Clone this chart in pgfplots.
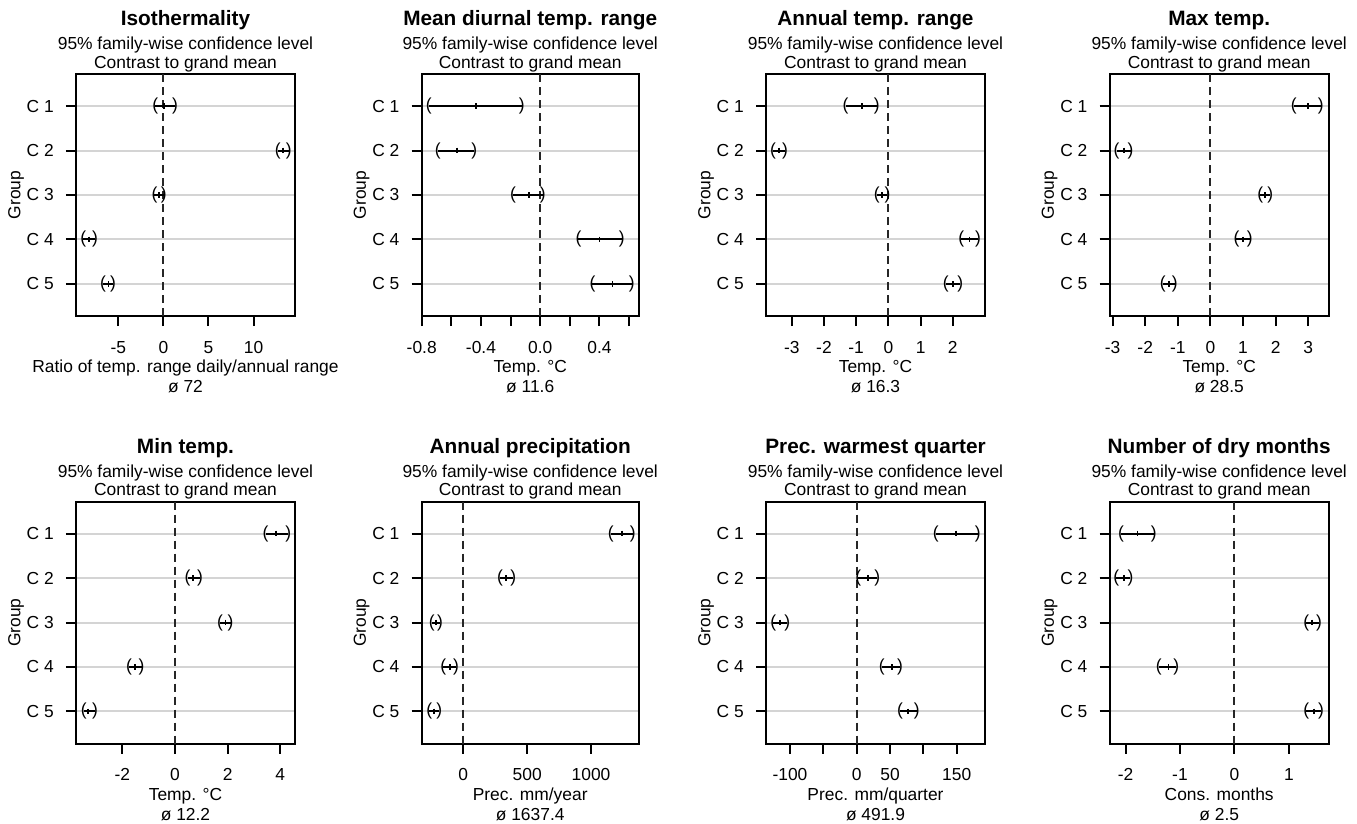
\documentclass[border=0pt]{standalone}
\usepackage{pgfplots}
\pgfplotsset{compat=1.18}
\usepackage{pgfplotstable}
\usepackage{fontspec}
\setmainfont{Liberation Sans}

\newcommand{\txtfont}{\fontsize{8.7}{10}\selectfont}
\newcommand{\ttlfont}{\fontsize{10.4}{12}\selectfont\bfseries}

% g = group, lwr/est/upr = simultaneous 95% interval (contrast to grand mean)
\pgfplotstableread{
g lwr est upr
1 -0.9 0.1 1.3
2 12.7 13.3 13.9
3 -1.0 -0.45 0.05
4 -8.9 -8.3 -7.6
5 -6.7 -6.1 -5.6
}\tIso
\pgfplotstableread{
g lwr est upr
1 -0.753 -0.431 -0.124
2 -0.692 -0.562 -0.445
3 -0.184 -0.074 0.018
4 0.258 0.400 0.551
5 0.353 0.488 0.618
}\tDiu
\pgfplotstableread{
g lwr est upr
1 -1.33 -0.83 -0.36
2 -3.58 -3.40 -3.21
3 -0.36 -0.21 -0.03
4 2.26 2.52 2.78
5 1.78 2.00 2.23
}\tAnn
\pgfplotstableread{
g lwr est upr
1 2.56 2.99 3.39
2 -2.88 -2.66 -2.45
3 1.53 1.67 1.84
4 0.80 1.00 1.21
5 -1.46 -1.28 -1.09
}\tMax
\pgfplotstableread{
g lwr est upr
1 3.44 3.84 4.30
2 0.48 0.70 0.95
3 1.71 1.92 2.11
4 -1.75 -1.52 -1.27
5 -3.46 -3.29 -3.04
}\tMin
\pgfplotstableread{
g lwr est upr
1 1154 1240 1326
2 287 332 392
3 -248 -214 -183
4 -157 -104 -57
5 -266 -227 -188
}\tPrec
\pgfplotstableread{
g lwr est upr
1 118.5 149 181.5
2 2.5 17.5 31
3 -125 -115 -104
4 37.5 52.5 65
5 65 77.5 90
}\tWarm
\pgfplotstableread{
g lwr est upr
1 -2.08 -1.78 -1.48
2 -2.17 -2.03 -1.91
3 1.32 1.43 1.55
4 -1.39 -1.21 -1.07
5 1.32 1.46 1.59
}\tDry

\pgfplotsset{
  ci/.style={
    scale only axis, height=121pt, width=109.5pt, anchor=south west,
    y dir=reverse, ymin=0.28, ymax=5.72,
    ytick={1,2,3,4,5}, yticklabels={C 1,C 2,C 3,C 4,C 5},
    tick align=outside, xtick pos=bottom, ytick pos=left,
    major tick length=5pt, tick style={black, line width=1pt},
    axis line style={line width=1pt},
    ymajorgrids, major grid style={black!17, line width=1pt},
    tick label style={font=\txtfont},
    xticklabel style={anchor=base, yshift=-13.6pt},
    yticklabel style={xshift=-2.6pt},
  },
}

% zero line, intervals, estimates and brackets of one panel
\newcommand{\ciplot}[1]{%
  \addplot[black!85, line width=1pt, dash pattern=on 4pt off 2.5pt] coordinates {(0,0.28) (0,5.72)};
  \addplot[black, only marks, mark=|, mark size=1.4pt, mark options={line width=0.9pt},
    error bars/.cd, x dir=both, x explicit, error mark=none,
    error bar style={line width=1pt, black}]
    table[x=est, y=g, x error plus expr=\thisrow{upr}-\thisrow{est},
          x error minus expr=\thisrow{est}-\thisrow{lwr}] {#1};
  \addplot[draw=none, mark=none, nodes near coords={(}, nodes near coords align=center,
    every node near coord/.append style={inner sep=0pt, font=\txtfont}]
    table[x=lwr, y=g] {#1};
  \addplot[draw=none, mark=none, nodes near coords={)}, nodes near coords align=center,
    every node near coord/.append style={inner sep=0pt, font=\txtfont}]
    table[x=upr, y=g] {#1};
}

% texts around a panel, in pixels of the reference (y downwards)
\newcommand{\ptexts}[6]{% cx, row shift, left, title, xlabel, mean
  \node[anchor=base, font=\ttlfont] at (#1, 26+#2) {#4};
  \node[anchor=base, font=\txtfont] at (#1, 50+#2) {95\% family-wise confidence level};
  \node[anchor=base, font=\txtfont] at (#1, 68.3+#2) {Contrast to grand mean};
  \node[anchor=base, font=\txtfont] at (#1, 372.7+#2) {#5};
  \node[anchor=base, font=\txtfont] at (#1, 392.7+#2) {ø #6};
  \node[rotate=90, font=\txtfont] at (#3-60, 195+#2) {Group};
}

\begin{document}
\begin{tikzpicture}
\path[use as bounding box] (0,0) rectangle (678.5pt,-412pt);

% ---- row 1
\begin{axis}[ci, at={(38pt,-158pt)}, xmin=-9.7, xmax=14.6,
  xtick={-5,0,5,10}, xticklabels={-5,0,5,10}]
\ciplot{\tIso}
\end{axis}
\begin{axis}[ci, at={(210.85pt,-158pt)}, width=108.5pt, xmin=-0.80, xmax=0.665,
  xtick={-0.8,-0.6,-0.4,-0.2,0,0.2,0.4,0.6}, xticklabels={-0.8,,-0.4,,0.0,,0.4,}]
\ciplot{\tDiu}
\end{axis}
\begin{axis}[ci, at={(383pt,-158pt)}, xmin=-3.8, xmax=3.0,
  xtick={-3,-2,-1,0,1,2}, xticklabels={-3,-2,-1,0,1,2}]
\ciplot{\tAnn}
\end{axis}
\begin{axis}[ci, at={(554.85pt,-158pt)}, xmin=-3.09, xmax=3.63,
  xtick={-3,-2,-1,0,1,2,3}, xticklabels={-3,-2,-1,0,1,2,3}]
\ciplot{\tMax}
\end{axis}

% ---- row 2
\begin{axis}[ci, at={(38pt,-371.75pt)}, xmin=-3.76, xmax=4.56,
  xtick={-2,0,2,4}, xticklabels={-2,0,2,4}]
\ciplot{\tMin}
\end{axis}
\begin{axis}[ci, at={(210.85pt,-371.75pt)}, width=108.8pt, xmin=-326, xmax=1378,
  xtick={0,500,1000}, xticklabels={0,500,1000}]
\ciplot{\tPrec}
\end{axis}
\begin{axis}[ci, at={(383pt,-371.75pt)}, xmin=-136, xmax=192.5,
  xtick={-100,-50,0,50,100,150}, xticklabels={-100,,0,50,,150}]
\ciplot{\tWarm}
\end{axis}
\begin{axis}[ci, at={(554.85pt,-371.75pt)}, xmin=-2.29, xmax=1.73,
  xtick={-2,-1,0,1}, xticklabels={-2,-1,0,1}]
\ciplot{\tDry}
\end{axis}

\begin{scope}[x=0.5pt, y=-0.5pt]
\ptexts{185.5}{0}{76}{Isothermality}{Ratio of temp. range daily/annual range}{72}
\ptexts{530.2}{0}{421.7}{Mean diurnal temp. range}{Temp. °C}{11.6}
\ptexts{875.5}{0}{766}{Annual temp. range}{Temp. °C}{16.3}
\ptexts{1219.2}{0}{1109.7}{Max temp.}{Temp. °C}{28.5}
\ptexts{185.5}{427.5}{76}{Min temp.}{Temp. °C}{12.2}
\ptexts{530.2}{427.5}{421.7}{Annual precipitation}{Prec. mm/year}{1637.4}
\ptexts{875.5}{427.5}{766}{Prec. warmest quarter}{Prec. mm/quarter}{491.9}
\ptexts{1219.2}{427.5}{1109.7}{Number of dry months}{Cons. months}{2.5}
\end{scope}
\end{tikzpicture}
\end{document}
